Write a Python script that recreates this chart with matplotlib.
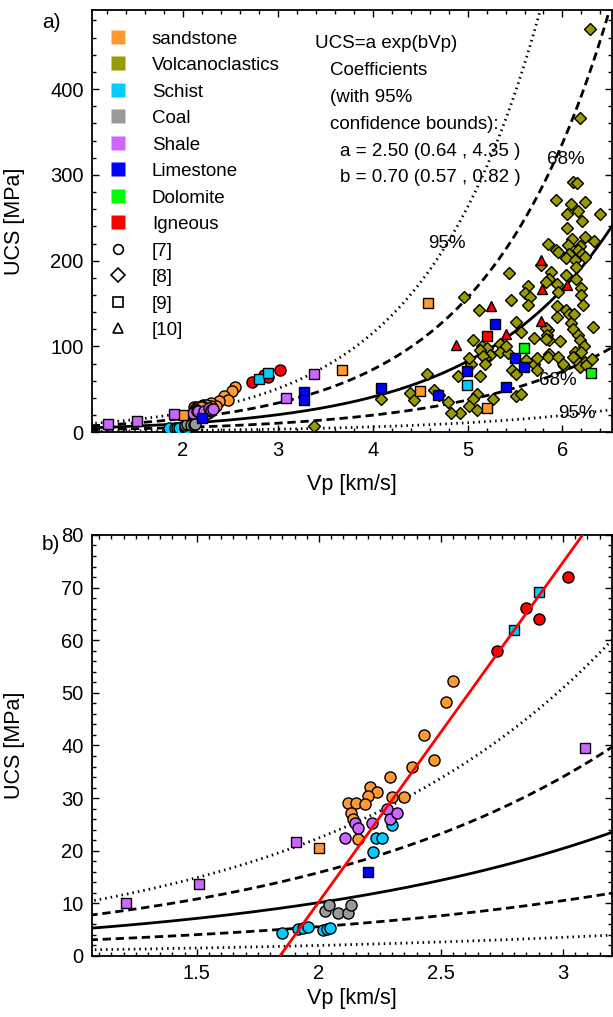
import numpy as np
import matplotlib
matplotlib.use("Agg")
import matplotlib.pyplot as plt
from matplotlib.lines import Line2D
from matplotlib.ticker import MultipleLocator
from matplotlib.font_manager import FontProperties

plt.rcParams['font.family'] = ['Liberation Sans', 'DejaVu Sans']
txt_family = ['Liberation Sans', 'DejaVu Sans']
txt_size = 13.5

# exponential fit UCS = a exp(b Vp) and its coefficient bounds
a_fit, b_fit = 2.50, 0.70
a_95 = (0.64, 4.35)
b_95 = (0.57, 0.82)
a_68 = (1.56, 3.44)
b_68 = (0.636, 0.764)

# linear fit shown in panel b
lin_slope, lin_icpt = 64.5, -118.7

# colours of the rock types
c_sand = '#FF9933'
c_volc = '#999900'
c_schist = '#00CCFF'
c_coal = '#999999'
c_shale = '#CC66FF'
c_lime = '#0000FF'
c_dolo = '#00FF00'
c_ign = '#FF0000'

# --- ref [7] (circles)
sand7_vp = [2.55, 2.52, 2.43, 2.47, 2.38, 2.29, 2.35, 2.30, 2.21, 2.24, 2.20, 2.12, 2.15, 2.19, 2.13, 2.14, 2.16]
sand7_ucs = [52.3, 48.2, 42.0, 37.3, 36.0, 34.1, 30.3, 30.3, 32.2, 31.2, 30.4, 29.0, 29.0, 28.9, 27.1, 26.0, 22.3]
schist7_vp = [1.85, 1.915, 1.936, 1.956, 2.018, 2.034, 2.045, 2.22, 2.233, 2.26, 2.30]
schist7_ucs = [4.4, 5.1, 5.3, 5.45, 4.9, 5.1, 5.4, 19.8, 22.4, 22.4, 24.9]
coal7_vp = [2.025, 2.04, 2.08, 2.12, 2.13]
coal7_ucs = [8.6, 9.6, 8.2, 8.2, 9.7]
shale7_vp = [2.107, 2.147, 2.16, 2.216, 2.277, 2.291, 2.318]
shale7_ucs = [22.4, 25.2, 24.3, 25.2, 27.9, 26.0, 27.1]
ign7_vp = [2.73, 2.85, 2.90, 3.02]
ign7_ucs = [58.0, 66.2, 64.0, 72.0]

# --- ref [8] (diamonds), volcanoclastics
volc8_vp = [6.29, 6.19, 6.11, 6.15, 5.93, 6.09, 6.24, 6.40, 6.16, 6.05, 6.21, 6.05,
            5.85, 5.93, 5.95, 6.10, 6.24, 6.33, 6.06, 6.19, 6.16, 6.07, 6.21, 6.04, 6.13, 6.24,
            5.77, 6.14, 5.44, 5.88, 6.04, 6.14, 5.86, 5.94, 6.20, 5.64, 5.61, 5.66, 5.83, 5.95,
            5.64, 6.20, 6.22, 4.96, 5.12, 5.46, 5.94, 6.04, 6.07, 5.94, 6.32, 6.09, 6.12, 6.11,
            5.85, 5.56, 5.51, 5.83,
            6.16, 6.18, 6.23, 6.13, 5.97, 5.84, 5.86, 5.70, 5.83, 5.06, 5.15, 5.22, 5.34, 5.34,
            5.20, 5.24, 5.13, 5.43, 5.40, 6.20, 5.86,
            6.14, 6.24, 6.02, 5.70, 5.73, 5.85, 5.95, 5.18, 5.16, 5.18, 5.04, 5.01, 5.13, 4.90,
            5.47, 5.51, 6.11, 6.01, 5.73, 5.62, 6.18, 6.25, 6.31, 4.57,
            5.10, 5.06, 5.02, 4.92, 4.83, 5.27, 5.51, 5.56, 5.10, 4.79, 4.39, 4.44, 4.65, 4.70,
            4.09, 3.38]
volc8_ucs = [470, 366, 292, 291, 271, 266, 268, 254, 258, 254, 246, 238,
             219, 212, 210, 225, 227, 223, 218, 217, 212, 208, 208, 203, 201, 204,
             195, 193, 186, 187, 183, 179, 179, 173, 168, 171, 162, 158, 175, 164,
             148, 160, 148, 158, 143, 154, 147, 143, 138, 134, 123, 127, 138, 120,
             119, 117, 128, 121,
             113, 107, 100, 94, 106, 113, 107, 110, 109, 107, 100, 94, 103, 94,
             98, 90, 96, 92, 100, 94, 91,
             84, 82, 77, 80, 73, 88, 88, 86, 89, 80, 80, 86, 65, 66,
             73, 68, 88, 80, 86, 84, 76, 78, 85, 68,
             45, 39, 30, 22, 22, 39, 42, 44, 26, 35, 46, 37, 49, 43,
             39, 7]

# --- ref [9] (squares)
sand9_vp = [2.00, 3.68, 4.58, 4.50, 5.20]
sand9_ucs = [20.5, 73, 151, 48, 28]
schist9_vp = [2.80, 2.90, 4.99]
schist9_ucs = [61.9, 69.1, 55.6]
shale9_vp = [1.21, 1.51, 1.906, 3.09, 3.38]
shale9_ucs = [10.1, 13.6, 21.7, 39.5, 67.4]
lime9_vp = [2.20, 3.28, 3.28, 4.09, 4.69, 4.99, 5.29, 5.50, 5.59, 5.40]
lime9_ucs = [16.0, 47, 37.5, 51, 43, 71.5, 126, 87, 76, 53]
dolo9_vp = [5.59, 6.30]
dolo9_ucs = [98, 69.5]
ign9_vp = [5.20]
ign9_ucs = [112]

# --- ref [10] (triangles), igneous
ign10_vp = [4.88, 5.25, 5.77, 5.78, 6.05, 5.77, 5.41]
ign10_ucs = [102, 147, 201, 167, 172, 129.6, 114]

groups = [
    (volc8_vp, volc8_ucs, c_volc, 'D'),
    (sand7_vp, sand7_ucs, c_sand, 'o'),
    (schist7_vp, schist7_ucs, c_schist, 'o'),
    (coal7_vp, coal7_ucs, c_coal, 'o'),
    (shale7_vp, shale7_ucs, c_shale, 'o'),
    (ign7_vp, ign7_ucs, c_ign, 'o'),
    (sand9_vp, sand9_ucs, c_sand, 's'),
    (schist9_vp, schist9_ucs, c_schist, 's'),
    (shale9_vp, shale9_ucs, c_shale, 's'),
    (lime9_vp, lime9_ucs, c_lime, 's'),
    (dolo9_vp, dolo9_ucs, c_dolo, 's'),
    (ign9_vp, ign9_ucs, c_ign, 's'),
    (ign10_vp, ign10_ucs, c_ign, '^'),
]
msize = {'o': 8.0, 'D': 6.6, 's': 7.6, '^': 7.8}

legend_names = ['sandstone', 'Volcanoclastics', 'Schist', 'Coal', 'Shale',
                'Limestone', 'Dolomite', 'Igneous']
legend_cols = [c_sand, c_volc, c_schist, c_coal, c_shale, c_lime, c_dolo, c_ign]
ref_names = ['[7]', '[8]', '[9]', '[10]']
ref_marks = ['o', 'D', 's', '^']


def draw_fits(ax):
    vp = np.linspace(0.9, 6.7, 500)
    for a, b in zip(a_95, b_95):
        ax.plot(vp, a * np.exp(b * vp), color='k', lw=2.0, dashes=(0.55, 1.45), zorder=2)
    for a, b in zip(a_68, b_68):
        ax.plot(vp, a * np.exp(b * vp), color='k', lw=2.0, dashes=(3.0, 1.7), zorder=2)
    ax.plot(vp, a_fit * np.exp(b_fit * vp), color='k', lw=2.0, zorder=2)


def draw_points(ax):
    for x, y, c, m in groups:
        ax.plot(x, y, ls='none', marker=m, ms=msize[m], mfc=c, mec='k', mew=1.0, zorder=3)


def style(ax):
    for s in ax.spines.values():
        s.set_linewidth(1.3)
    ax.tick_params(which='both', direction='in', top=True, right=True, width=1.0,
                   labelsize=14.5)
    ax.tick_params(which='major', length=5, pad=6)
    ax.tick_params(which='minor', length=3)


fig = plt.figure(figsize=(6.13, 10.17), dpi=100)
ax1 = fig.add_axes([0.150, 0.575, 0.848, 0.415])
ax2 = fig.add_axes([0.150, 0.060, 0.848, 0.414])

# ---------- panel a
draw_fits(ax1)
draw_points(ax1)
ax1.set_xlim(1.04, 6.52)
ax1.set_ylim(0, 492)
ax1.set_xticks([2, 3, 4, 5, 6])
ax1.set_yticks([0, 100, 200, 300, 400])
ax1.xaxis.set_minor_locator(MultipleLocator(0.2))
ax1.yaxis.set_minor_locator(MultipleLocator(20))
style(ax1)
ax1.set_xlabel('Vp [km/s]', fontsize=15.5)
ax1.set_ylabel('UCS [MPa]', fontsize=15.5)
ax1.xaxis.set_label_coords(0.5, -0.100)
ax1.yaxis.set_label_coords(-0.129, 0.5)

handles = [Line2D([], [], ls='none', marker='s', ms=10, mfc=c, mec='none') for c in legend_cols]
handles += [Line2D([], [], ls='none', marker=m, ms=7, mfc='none', mec='k', mew=1.2) for m in ref_marks]
ax1.legend(handles, legend_names + ref_names, loc='upper left', bbox_to_anchor=(0.032, 0.952),
           frameon=False, borderpad=0, borderaxespad=0, handlelength=1.0, handletextpad=1.31,
           labelspacing=0.50, prop=FontProperties(family=txt_family, size=txt_size))

tk = dict(transform=ax1.transAxes, family=txt_family, fontsize=txt_size, va='center', ha='left')
ax1.text(0.429, 0.922, 'UCS=a exp(bVp)', **tk)
ax1.text(0.458, 0.858, 'Coefficients', **tk)
ax1.text(0.458, 0.794, '(with 95%', **tk)
ax1.text(0.458, 0.730, 'confidence bounds):', **tk)
ax1.text(0.477, 0.666, 'a = %.2f (%.2f , %.2f )' % (a_fit, a_95[0], a_95[1]), **tk)
ax1.text(0.477, 0.604, 'b = %.2f (%.2f , %.2f )' % (b_fit, b_95[0], b_95[1]), **tk)
ax1.text(0.875, 0.647, '68%', **tk)
ax1.text(0.646, 0.448, '95%', **tk)
ax1.text(0.860, 0.123, '68%', **tk)
ax1.text(0.896, 0.045, '95%', **tk)

# ---------- panel b
draw_fits(ax2)
draw_points(ax2)
vl = np.array([1.0, 3.3])
ax2.plot(vl, lin_slope * vl + lin_icpt, color='#FF0000', lw=2.0, zorder=4)
ax2.set_xlim(1.07, 3.20)
ax2.set_ylim(0, 80)
ax2.set_xticks([1.5, 2, 2.5, 3])
ax2.set_xticklabels(['1.5', '2', '2.5', '3'])
ax2.set_yticks(np.arange(0, 81, 10))
ax2.xaxis.set_minor_locator(MultipleLocator(0.05))
ax2.yaxis.set_minor_locator(MultipleLocator(2))
style(ax2)
ax2.set_xlabel('Vp [km/s]', fontsize=15.5)
ax2.set_ylabel('UCS [MPa]', fontsize=15.5)
ax2.xaxis.set_label_coords(0.5, -0.075)
ax2.yaxis.set_label_coords(-0.129, 0.5)

fig.text(42 / 613, 1 - 23 / 1017, 'a)', fontsize=15, va='center', ha='left')
fig.text(42 / 613, 1 - 545 / 1017, 'b)', fontsize=15, va='center', ha='left')

fig.savefig('out.png', dpi=100)
